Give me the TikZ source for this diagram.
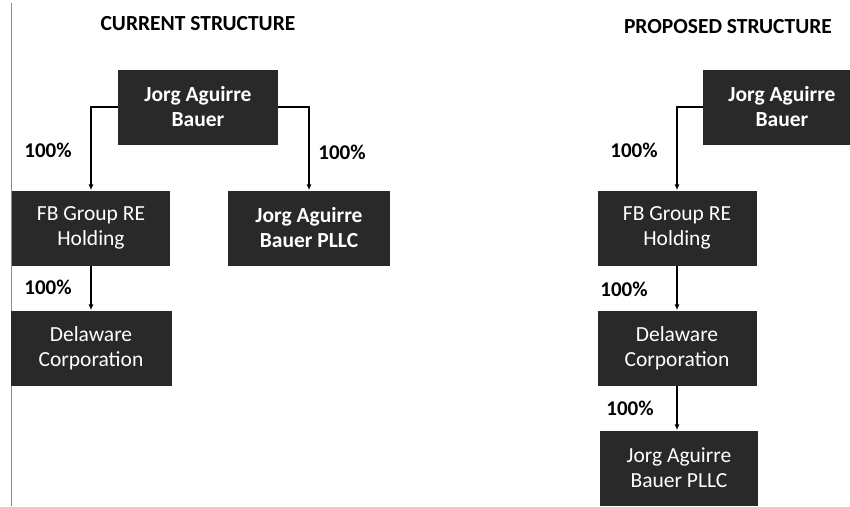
\documentclass[tikz,border=0pt]{standalone}
\usepackage{fontspec}
\setmainfont{Carlito}
\usetikzlibrary{arrows.meta,positioning}

\begin{document}
\begin{tikzpicture}[
  x=1pt, y=-1pt,
  every node/.style = {align=center},
  entity/.style = {shape=rectangle, fill=black!84, text=white, minimum height=75pt,
                   inner sep=0pt, font=\fontsize{21.5}{25}\selectfont},
  boldentity/.style = {entity, font=\bfseries\fontsize{21.5}{25}\selectfont},
  share/.style = {font=\bfseries\fontsize{21}{22}\selectfont},
  heading/.style = {font=\bfseries\fontsize{21.5}{24}\selectfont},
  own/.style = {line width=1.6pt, -{Latex[length=6pt,width=5pt]}}
]
  \useasboundingbox (0,0) rectangle (850,506);
  % scan edge
  \draw[black!45, line width=0.8pt] (11,3) -- (11,506);

  % current structure
  \node[heading] (curTitle) at (198,24) {CURRENT STRUCTURE};
  \node[boldentity, minimum width=160pt] (curTop) at (198,107) {Jorg Aguirre\\Bauer};
  \node[entity, minimum width=158pt] (curFB) at (91,228) {FB Group RE\\Holding};
  \node[boldentity, minimum width=162pt] (curPLLC) at (309,228) {Jorg Aguirre\\Bauer PLLC};
  \node[entity, minimum width=161pt] (curDel) at (91,348) {Delaware\\Corporation};
  \node[share] (curShareA) at (48,150) {100\%};
  \node[share] (curShareB) at (342,152) {100\%};
  \node[share] (curShareC) at (48,287) {100\%};
  \draw[own] (curTop.west) -| (curFB.north);
  \draw[own] (curTop.east) -| (curPLLC.north);
  \draw[own] (curFB.south) -- (curDel.north);

  % proposed structure
  \node[heading] (proTitle) at (728,27) {PROPOSED STRUCTURE};
  \node[boldentity, minimum width=158pt] (proTop) at (782,107) {Jorg Aguirre\\Bauer};
  \node[entity, minimum width=159pt] (proFB) at (677,228) {FB Group RE\\Holding};
  \node[entity, minimum width=159pt] (proDel) at (677,348) {Delaware\\Corporation};
  \node[entity, minimum width=158pt] (proPLLC) at (679,468) {Jorg Aguirre\\Bauer PLLC};
  \node[share] (proShareA) at (634,150) {100\%};
  \node[share] (proShareB) at (624,289) {100\%};
  \node[share] (proShareC) at (630,408) {100\%};
  \draw[own] (proTop.west) -| (proFB.north);
  \draw[own] (proFB.south) -- (proDel.north);
  \draw[own] (proDel.south) -- (proDel.south |- proPLLC.north);
\end{tikzpicture}
\end{document}
